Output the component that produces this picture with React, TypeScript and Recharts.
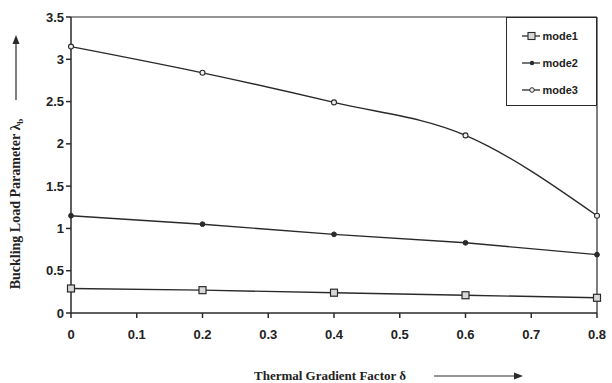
import React from 'react';
import { LineChart, Line, XAxis, YAxis, ReferenceLine, Label } from 'recharts';

const deltas = [0, 0.2, 0.4, 0.6, 0.8];
const mode1 = [0.29, 0.27, 0.24, 0.21, 0.18];
const mode2 = [1.15, 1.05, 0.93, 0.83, 0.69];
const mode3 = [3.15, 2.84, 2.49, 2.1, 1.15];
const seriesNames = ['mode1', 'mode2', 'mode3'];
const xTicks = [0, 0.1, 0.2, 0.3, 0.4, 0.5, 0.6, 0.7, 0.8];
const yTicks = [0, 0.5, 1, 1.5, 2, 2.5, 3, 3.5];
const xTitle = 'Thermal Gradient Factor δ';
const yTitle = 'Buckling Load Parameter λ';
const yTitleSub = 'b';

const data = deltas.map((d, i) => ({ d, mode1: mode1[i], mode2: mode2[i], mode3: mode3[i] }));

const INK = '#2a2a2a';
const tickStyle = { fontFamily: '"Liberation Sans", Arial, sans-serif', fontWeight: 700, fontSize: 13, fill: '#222' };

const SquareDot = (p: any) => (
  <rect key={`s${p.index}`} x={p.cx - 3.5} y={p.cy - 3.5} width={7} height={7} fill="#d8d8d8" stroke={INK} strokeWidth={1.2} />
);
const FilledDot = (p: any) => (
  <circle key={`f${p.index}`} cx={p.cx} cy={p.cy} r={2.4} fill={INK} stroke={INK} strokeWidth={1} />
);
const OpenDot = (p: any) => (
  <circle key={`o${p.index}`} cx={p.cx} cy={p.cy} r={2.5} fill="#eee" stroke={INK} strokeWidth={1.1} />
);

const LegendIcon = ({ kind }: { kind: number }) => (
  <svg width={20} height={10} style={{ display: 'block' }}>
    <line x1={1} y1={5} x2={19} y2={5} stroke={INK} strokeWidth={1.3} />
    {kind === 0 && <rect x={7} y={1.5} width={7} height={7} fill="#d8d8d8" stroke={INK} strokeWidth={1.1} />}
    {kind === 1 && <circle cx={11} cy={5} r={2.2} fill={INK} />}
    {kind === 2 && <circle cx={11} cy={5} r={2.3} fill="#eee" stroke={INK} strokeWidth={1} />}
  </svg>
);

const LegendBox = () => (
  <div
    style={{
      position: 'absolute', left: 506, top: 17, width: 91, height: 89, boxSizing: 'border-box',
      border: `1.5px solid ${INK}`, background: '#fff', paddingTop: 4,
    }}
  >
    {seriesNames.map((n, i) => (
      <div key={n} style={{ display: 'flex', alignItems: 'center', justifyContent: 'flex-end', height: 27, paddingRight: 18 }}>
        <LegendIcon kind={i} />
        <span style={{ fontFamily: '"Liberation Sans", Arial, sans-serif', fontWeight: 700, fontSize: 11, color: '#222', marginLeft: 2 }}>{n}</span>
      </div>
    ))}
  </div>
);

const XTitle = () => (
  <g>
    <text x={330} y={380} textAnchor="middle" style={{ fontFamily: '"Liberation Serif", "Times New Roman", serif', fontWeight: 700, fontSize: 13, fill: '#222' }}>
      {xTitle}
    </text>
    <line x1={434} y1={376} x2={516} y2={376} stroke={INK} strokeWidth={1.2} />
    <path d="M 523 376 L 514 372.5 L 514 379.5 Z" fill={INK} />
  </g>
);

const YTitle = () => (
  <g>
    <text x={0} y={0} transform="translate(20,204) rotate(-90)" textAnchor="middle" style={{ fontFamily: '"Liberation Serif", "Times New Roman", serif', fontWeight: 700, fontSize: 14, fill: '#222' }}>
      {yTitle}
      <tspan fontSize={9} dy={3}>{yTitleSub}</tspan>
    </text>
    <line x1={16} y1={100} x2={16} y2={42} stroke={INK} strokeWidth={1.2} />
    <path d="M 16 35 L 12.5 44 L 19.5 44 Z" fill={INK} />
  </g>
);

export default function App() {
  return (
    <div style={{ position: 'absolute', left: 0, top: 0, width: 612, height: 383, background: '#fff' }}>
      <LineChart width={612} height={383} data={data} margin={{ top: 17, right: 15, bottom: 0, left: 0 }}>
        <XAxis
          dataKey="d"
          type="number"
          domain={[0, 0.8]}
          ticks={xTicks}
          height={70}
          tick={tickStyle}
          tickSize={5}
          tickMargin={12}
          stroke={INK}
          strokeWidth={1.5}
          tickFormatter={(v: number) => String(v)}
        >
          <Label content={<XTitle />} />
        </XAxis>
        <YAxis
          type="number"
          domain={[0, 3.5]}
          ticks={yTicks}
          width={71}
          tick={tickStyle}
          tickSize={5}
          tickMargin={2}
          stroke={INK}
          strokeWidth={1.5}
          tickFormatter={(v: number) => String(v)}
        >
          <Label content={<YTitle />} />
        </YAxis>
        <ReferenceLine y={3.5} stroke={INK} strokeWidth={1.2} />
        <ReferenceLine x={0.8} stroke={INK} strokeWidth={1.2} />
        <Line dataKey="mode1" name="mode1" type="linear" stroke={INK} strokeWidth={1.4} dot={SquareDot} isAnimationActive={false} />
        <Line dataKey="mode2" name="mode2" type="linear" stroke={INK} strokeWidth={1.4} dot={FilledDot} isAnimationActive={false} />
        <Line dataKey="mode3" name="mode3" type="monotone" stroke={INK} strokeWidth={1.4} dot={OpenDot} isAnimationActive={false} />
      </LineChart>
      <LegendBox />
    </div>
  );
}
